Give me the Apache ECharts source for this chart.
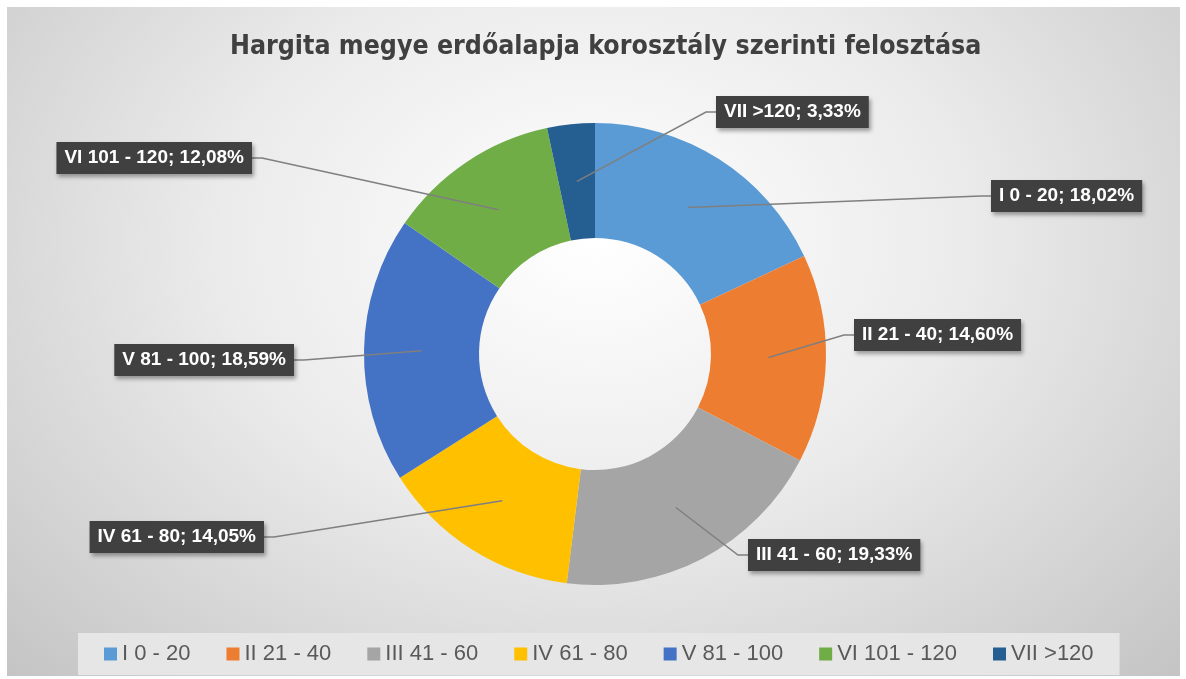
<!DOCTYPE html>
<html>
<head>
<meta charset="utf-8">
<script src="https://cdn.jsdelivr.net/npm/echarts@6/dist/echarts.min.js"></script>
<style>
  html, body { margin: 0; padding: 0; background: #fff; }
  .backdrop {
    position: absolute; left: 7px; top: 7px; width: 1173px; height: 669px;
    background: radial-gradient(ellipse at 50% 35%, #ffffff 0%, #ebebeb 45%, #c4c4c4 100%);
  }
  #chart { position: absolute; left: 0; top: 0; width: 1186px; height: 679px; }
</style>
</head>
<body>
<div class="backdrop"></div>
<div id="chart"></div>
<script>
// korosztályok és részesedésük (%)
const categories = ['I 0 - 20', 'II 21 - 40', 'III 41 - 60', 'IV 61 - 80', 'V 81 - 100', 'VI 101 - 120', 'VII >120']
const shares = [18.02, 14.60, 19.33, 14.05, 18.59, 12.08, 3.33]
const colors = ['#5B9BD5', '#ED7D31', '#A5A5A5', '#FFC000', '#4472C4', '#70AD47', '#255E91']

// donut geometry
const center = [595, 354]
const radius = [116, 231]

// where each label box sits: [edge x, middle y, side the line attaches]
const labelSpots = [
    [991, 196, 'left'],
    [854, 335, 'left'],
    [748, 555, 'left'],
    [264, 537, 'right'],
    [294, 360, 'right'],
    [252, 158, 'right'],
    [716, 112, 'left']
]

const total = shares.reduce((a, b) => a + b, 0)
// leader line start: middle of the ring at the slice's mid angle
const ringMid = (i) => {
    let before = 0
    for (let k = 0; k < i; k++) before += shares[k]
    const deg = 90 - 360 * (before + shares[i] / 2) / total
    const rad = deg * Math.PI / 180
    const r = (radius[0] + radius[1]) / 2
    return [center[0] + r * Math.cos(rad), center[1] - r * Math.sin(rad)]
}

const pieData = (withColor) => categories.map((name, i) => ({
    name: name,
    value: shares[i],
    itemStyle: { color: withColor ? colors[i] : 'rgba(0,0,0,0)' }
}))

const chart = echarts.init(document.getElementById('chart'))
chart.setOption({
    backgroundColor: 'transparent',
    title: {
        text: 'Hargita megye erdőalapja korosztály szerinti felosztása',
        left: 225,
        top: 29,
        textStyle: {
            fontFamily: "'Liberation Sans Narrow', 'DejaVu Sans Condensed', sans-serif",
            fontWeight: 'bold',
            fontSize: 26.5,
            color: '#404040'
        }
    },
    legend: {
        data: categories,
        left: 78,
        top: 633,
        icon: 'rect',
        itemWidth: 13,
        itemHeight: 13,
        itemGap: 36,
        padding: [10, 26],
        backgroundColor: '#e6e6e6',
        textStyle: {
            fontFamily: "'Liberation Sans', Arial, sans-serif",
            fontSize: 22,
            color: '#595959'
        }
    },
    series: [
        {
            // the coloured ring
            type: 'pie',
            z: 2,
            center: center,
            radius: radius,
            startAngle: 90,
            clockwise: true,
            silent: true,
            label: { show: false },
            labelLine: { show: false },
            data: pieData(true)
        },
        {
            // same ring, invisible, only carries the labels so leader lines sit on top
            type: 'pie',
            z: 6,
            center: center,
            radius: radius,
            startAngle: 90,
            clockwise: true,
            silent: true,
            avoidLabelOverlap: false,
            data: pieData(false),
            label: {
                show: true,
                position: 'outside',
                formatter: (p) => p.name + '; ' + p.value.toFixed(2).replace('.', ',') + '%',
                fontFamily: "'Liberation Sans', Arial, sans-serif",
                fontWeight: 'bold',
                fontSize: 19,
                lineHeight: 20,
                color: '#ffffff',
                backgroundColor: '#404040',
                padding: [6, 8],
                shadowColor: 'rgba(0,0,0,0.35)',
                shadowBlur: 4,
                shadowOffsetX: 2,
                shadowOffsetY: 3
            },
            labelLine: {
                show: true,
                lineStyle: { color: '#7f7f7f', width: 1.5 }
            },
            labelLayout: (params) => {
                const spot = labelSpots[params.dataIndex]
                const start = ringMid(params.dataIndex)
                const end = [spot[0], spot[1]]
                const bend = [spot[0] + (spot[2] === 'left' ? -10 : 10), spot[1]]
                return {
                    x: spot[0],
                    y: spot[1],
                    align: spot[2],
                    verticalAlign: 'middle',
                    labelLinePoints: [start, bend, end]
                }
            }
        }
    ]
})
</script>
</body>
</html>
